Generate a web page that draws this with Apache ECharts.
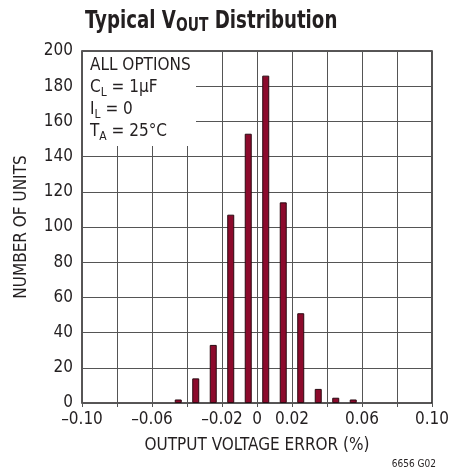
<!DOCTYPE html>
<html>
<head>
<meta charset="utf-8">
<script src="https://cdn.jsdelivr.net/npm/echarts@6/dist/echarts.min.js"></script>
<style>
  html, body { margin: 0; padding: 0; background: #fff; }
  #main { width: 452px; height: 470px; }
</style>
</head>
<body>
<div id="main"></div>
<script>
// histogram bins (centre of each bin, % error) and counts
const binCenters = [-0.045, -0.035, -0.025, -0.015, -0.005, 0.005, 0.015, 0.025, 0.035, 0.045, 0.055];
const unitCounts = [2, 14, 33, 107, 153, 186, 114, 51, 8, 3, 2];
// x tick labels shown (gridlines every 0.02)
const xTickValues = [-0.10, -0.06, -0.02, 0, 0.02, 0.06, 0.10];
const xTickLabels = ['–0.10', '–0.06', '–0.02', '0', '0.02', '0.06', '0.10'];

const FONT = '"Liberation Sans Narrow", "DejaVu Sans Condensed", sans-serif';
const chart = echarts.init(document.getElementById('main'));

function xLabel(v) {
  const i = xTickValues.findIndex(t => Math.abs(t - v) < 1e-6);
  return i < 0 ? '' : xTickLabels[i];
}

const gridLine = { show: true, lineStyle: { color: '#555', width: 1 } };

chart.setOption({
  animation: false,
  textStyle: { fontFamily: FONT },
  grid: { left: 82, right: 17, top: 51, bottom: 67, show: true, borderColor: '#231f20', borderWidth: 1.5 },
  xAxis: [{
    type: 'value', min: -0.1, max: 0.1, interval: 0.02,
    name: 'OUTPUT VOLTAGE ERROR (%)', nameLocation: 'middle', nameGap: 34,
    nameTextStyle: { fontFamily: FONT, fontSize: 17, color: '#231f20' },
    axisLine: { show: false }, axisTick: { show: false },
    axisLabel: { formatter: xLabel, fontSize: 17, color: '#231f20', margin: 8, fontFamily: FONT, showMinLabel: true, showMaxLabel: true },
    splitLine: gridLine, z: 0
  }, {
    type: 'value', min: -0.1, max: 0.1, interval: 0.02, position: 'top',
    axisLine: { show: false }, axisLabel: { show: false }, splitLine: { show: false },
    axisTick: { show: true, inside: true, length: 4, lineStyle: { color: '#555' } }, z: 10
  }],
  yAxis: [{
    type: 'value', min: 0, max: 200, interval: 20,
    name: 'NUMBER OF UNITS', nameLocation: 'middle', nameGap: 52, nameRotate: 90,
    nameTextStyle: { fontFamily: FONT, fontSize: 17, color: '#231f20' },
    axisLine: { show: false }, axisTick: { show: false },
    axisLabel: { fontSize: 17, color: '#231f20', margin: 9, fontFamily: FONT },
    splitLine: gridLine, z: 0
  }, {
    type: 'value', min: 0, max: 200, interval: 20, position: 'left',
    axisLine: { show: false }, axisLabel: { show: false }, splitLine: { show: false },
    axisTick: { show: true, inside: true, length: 4, lineStyle: { color: '#555' } }, z: 10
  }],
  graphic: [
    {
      type: 'text', x: 85, y: 7, scaleX: 0.81,
      style: {
        text: 'Typical V{sub|OUT} Distribution',
        fontFamily: FONT, fontWeight: 'bold', fontSize: 25, fill: '#231f20',
        rich: { sub: { fontFamily: FONT, fontWeight: 'bold', fontSize: 19, fill: '#231f20', padding: [10, 0, 0, 0] } }
      }
    },
    { type: 'rect', z: 1, shape: { x: 83, y: 52, width: 113, height: 94 }, style: { fill: '#fff' } },
    {
      type: 'text', z: 2, left: 90, top: 55,
      style: {
        text: 'ALL OPTIONS\nC{s|L} = 1µF\nI{s|L} = 0\nT{s|A} = 25°C',
        fontFamily: FONT, fontSize: 17, lineHeight: 22, fill: '#231f20',
        rich: { s: { fontFamily: FONT, fontSize: 12, lineHeight: 22, fill: '#231f20', padding: [9, 0, 0, 0] } }
      }
    },
    {
      type: 'text', right: 16, top: 459,
      style: { text: '6656 G02', fontFamily: FONT, fontSize: 10, fill: '#231f20' }
    }
  ],
  series: [{
    type: 'bar',
    xAxisIndex: 0, yAxisIndex: 0,
    barWidth: 7,
    data: binCenters.map((x, i) => [x, unitCounts[i]]),
    itemStyle: { color: '#8c0a2c', borderColor: '#2a0a12', borderWidth: 1 },
    z: 3
  }]
});
</script>
</body>
</html>
